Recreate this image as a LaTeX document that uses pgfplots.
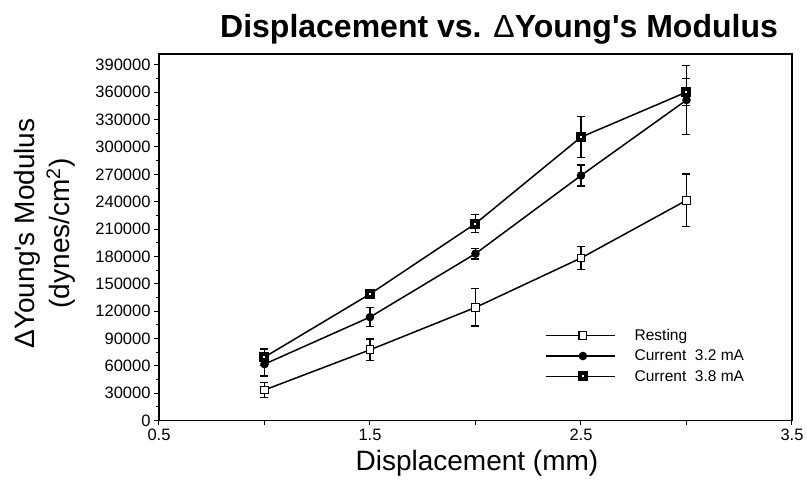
\documentclass[border=0pt]{standalone}
\usepackage{pgfplots}
\pgfplotsset{compat=1.18}
\usepackage{fontspec}
\setmainfont{Liberation Sans}

\pgfplotstableread{
x    y      e
1.0  33500  8500
1.5  77500  12000
2.0  124000 20500
2.5  178200 12500
3.0  241500 29000
}\resting
\pgfplotstableread{
x    y      e
1.0  61800  13000
1.5  113400 10500
2.0  183000 6000
2.5  268700 11500
3.0  351500 37500
}\curA
\pgfplotstableread{
x    y      e
1.0  69500  9000
1.5  138700 3500
2.0  216000 10000
2.5  310800 22500
3.0  360200 15000
}\curB

\begin{document}
\begin{tikzpicture}
\begin{axis}[
  scale only axis, width=633pt, height=366.5pt,
  xmin=0.5, xmax=3.5, ymin=0, ymax=402000,
  xtick={0.5,1,...,3.5}, xticklabels={0.5,,1.5,,2.5,,3.5},
  ytick={0,30000,...,390000}, minor y tick num=1,
  scaled y ticks=false,
  yticklabel style={/pgf/number format/fixed, /pgf/number format/1000 sep={}},
  /pgf/number format/assume math mode=true,
  tick label style={font=\fontsize{16.5}{19}\selectfont},
  tick align=outside, xtick pos=bottom, ytick pos=left,
  major tick length=5pt, minor tick length=3pt,
  tick style={black, line width=1pt},
  axis line style={line width=1.4pt},
  legend style={at={(0.605,0.258)}, anchor=north west, draw=none, fill=none,
    font=\fontsize{15.5}{18}\selectfont, row sep=6pt, column sep=18pt,
    nodes={inner sep=1pt}},
  legend cell align=left,
  legend image code/.code={\draw[mark repeat=2,mark phase=2,#1] plot coordinates {(0pt,0pt) (37pt,0pt) (69pt,0pt)};},
  every axis plot/.append style={black, line width=1.5pt},
]
\addplot[mark=square*, mark size=3.9pt, mark options={fill=white, line width=1.1pt},
  error bars/.cd, y dir=both, y explicit,
  error bar style={line width=1.3pt}, error mark options={rotate=90, mark size=4pt, line width=1.3pt}]
  table[x=x, y=y, y error=e] {\resting};
\addlegendentry{Resting}
\addplot[mark=*, mark size=3.5pt, mark options={fill=black},
  error bars/.cd, y dir=both, y explicit,
  error bar style={line width=1.3pt}, error mark options={rotate=90, mark size=4pt, line width=1.3pt}]
  table[x=x, y=y, y error=e] {\curA};
\addlegendentry{Current\ \ 3.2 mA}
\addplot[mark=square*, mark size=3pt, mark options={fill=white, line width=4pt},
  error bars/.cd, y dir=both, y explicit,
  error bar style={line width=1.3pt}, error mark options={rotate=90, mark size=4pt, line width=1.3pt}]
  table[x=x, y=y, y error=e] {\curB};
\addlegendentry{Current\ \ 3.8 mA}
\end{axis}
\node[font=\bfseries\fontsize{32}{36}\selectfont, anchor=base] at (340pt,382.5pt) {Displacement vs. {\mdseries Δ}Young\textquotesingle s Modulus};
\node[rotate=90, font=\fontsize{28}{35}\selectfont, align=center] at (-114.5pt,187pt) {ΔYoung\textquotesingle s Modulus\\(dynes/cm\textsuperscript{2})};
\node[font=\fontsize{28}{34}\selectfont, anchor=base] at (318pt,-50pt) {Displacement (mm)};
\pgfresetboundingbox
\path[use as bounding box] (-159pt,-60.5pt) rectangle (648pt,420.5pt);
\end{tikzpicture}
\end{document}
